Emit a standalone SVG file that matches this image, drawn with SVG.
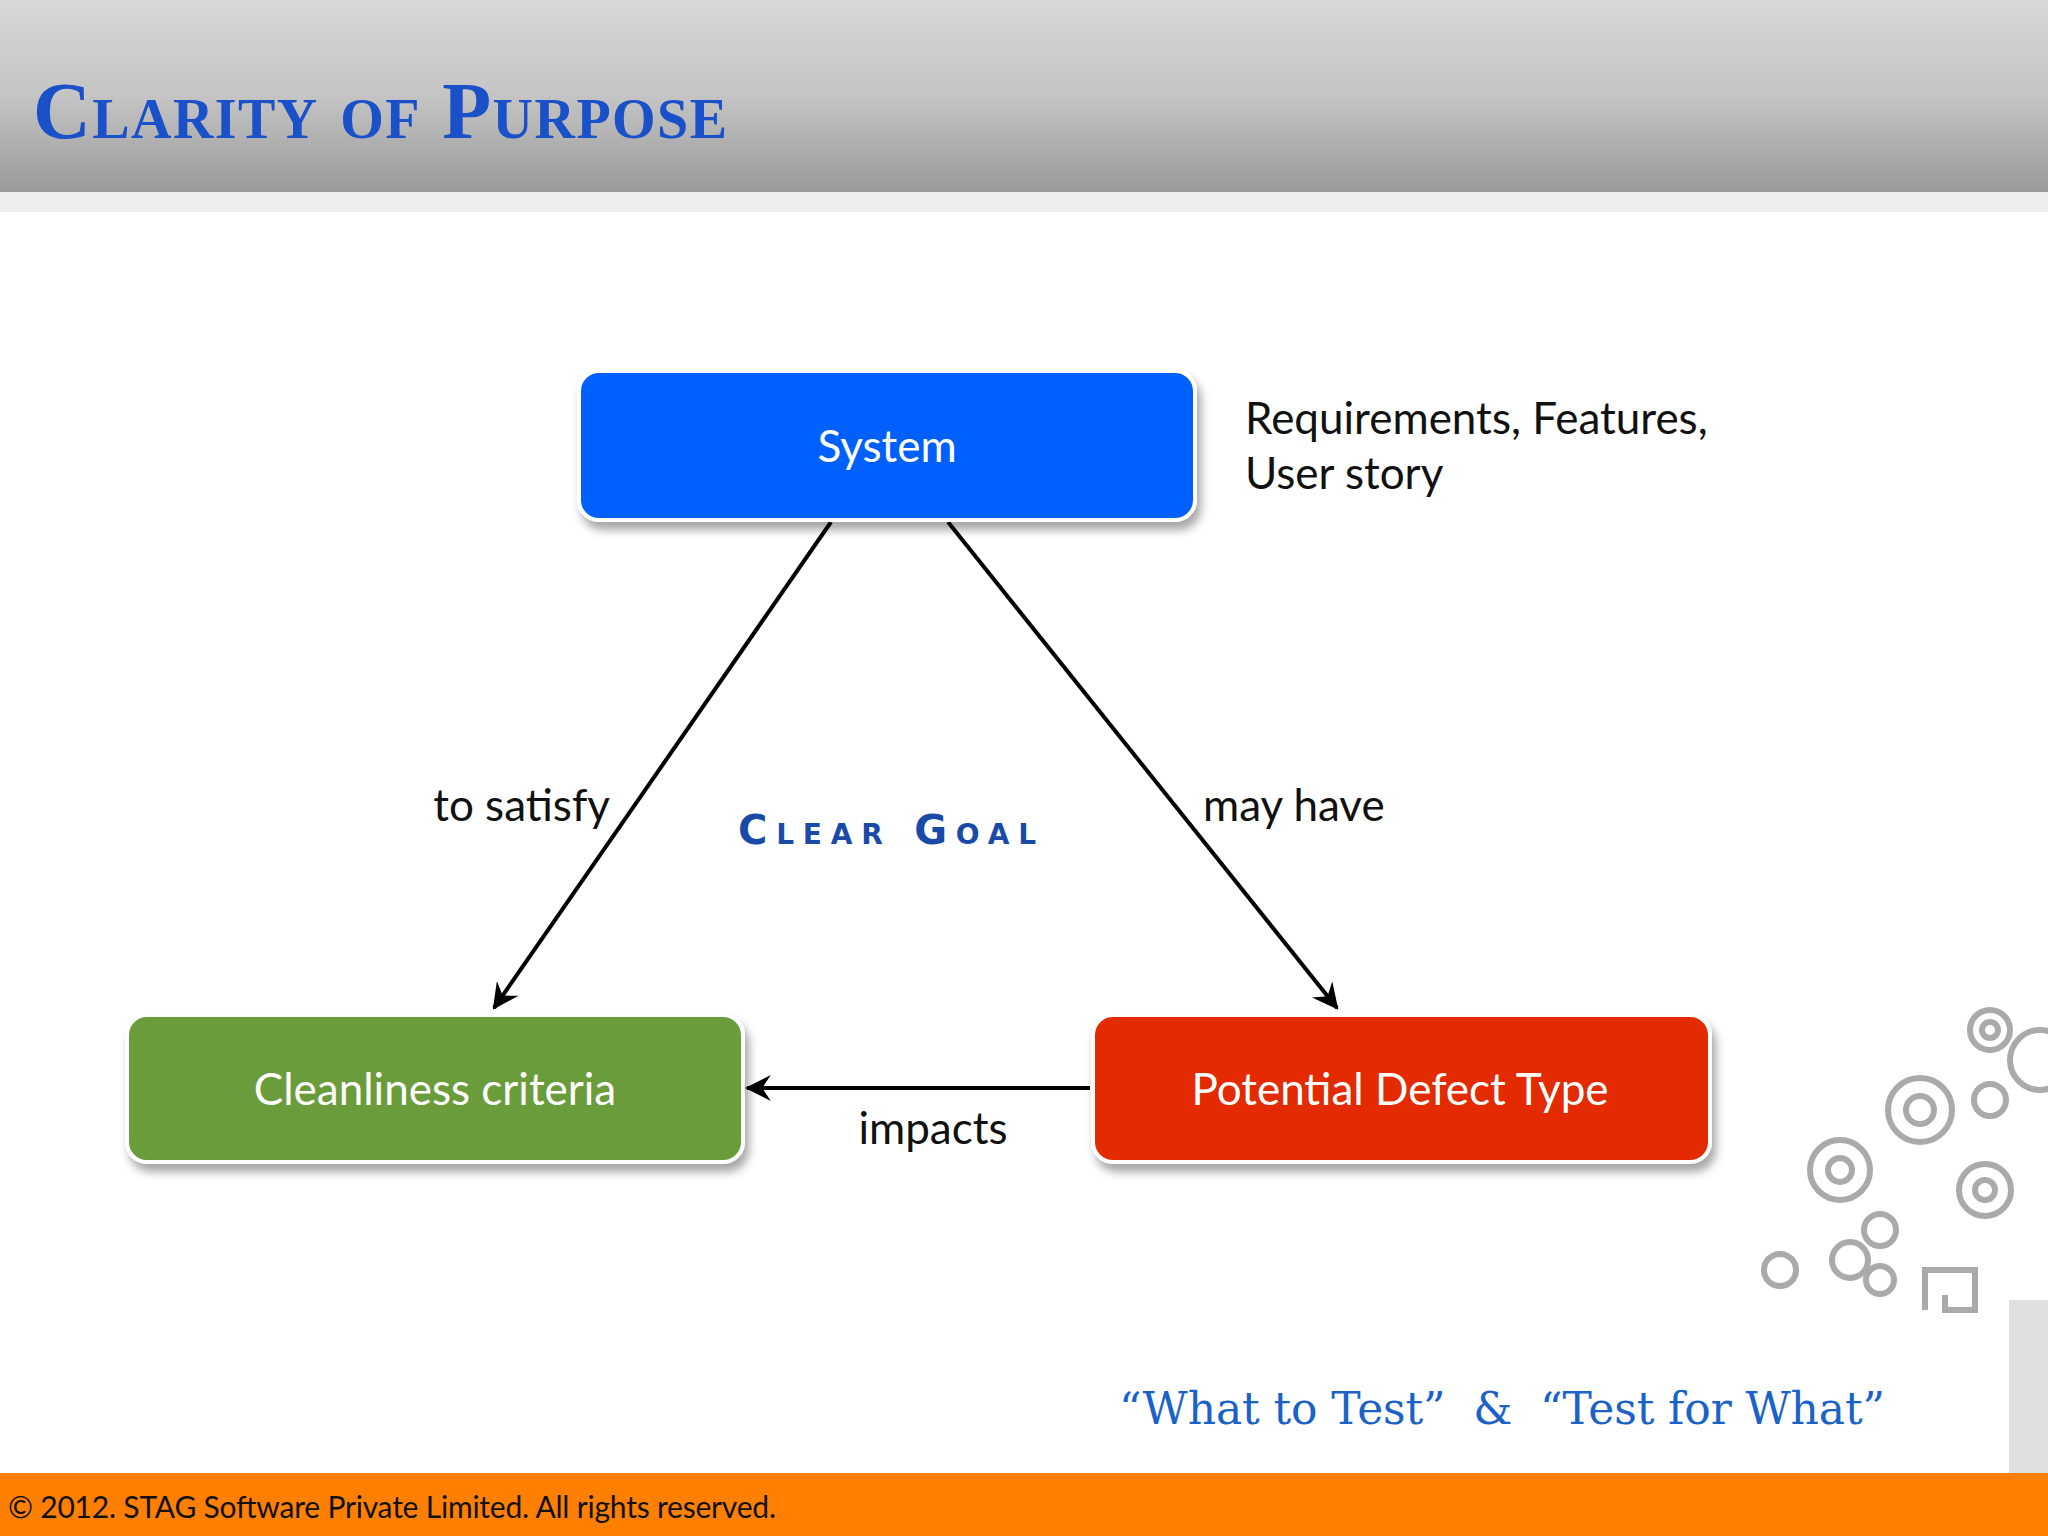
<svg xmlns="http://www.w3.org/2000/svg" width="2048" height="1536" viewBox="0 0 2048 1536">
<defs>
<linearGradient id="hdr" x1="0" y1="0" x2="0" y2="1"><stop offset="0" stop-color="#d8d8d8"/><stop offset="0.5" stop-color="#c4c4c4"/><stop offset="1" stop-color="#9a9a9a"/></linearGradient>
<filter id="sh" x="-10%" y="-10%" width="130%" height="140%"><feDropShadow dx="4" dy="8" stdDeviation="5" flood-color="#000" flood-opacity="0.35"/></filter>
<marker id="ah" viewBox="0 0 12 12" refX="11" refY="6" markerWidth="26" markerHeight="26" markerUnits="userSpaceOnUse" orient="auto"><path d="M0,0 L12,6 L0,12 L4,6 z" fill="#000"/></marker>
<style>
.lbl{font-family:Lato,"Open Sans",sans-serif;font-size:44px;fill:#111}
.nt{font-family:Lato,"Open Sans",sans-serif;font-size:44px;fill:#fff;text-anchor:middle}
.box{stroke:#fff;stroke-width:4;filter:url(#sh)}
.con{stroke:#000;stroke-width:4;fill:none;marker-end:url(#ah)}
.sw{fill:none;stroke:#aaa;stroke-width:6}
</style>
</defs>
<rect width="2048" height="1536" fill="#fff"/>
<rect width="2048" height="192" fill="url(#hdr)"/>
<rect y="192" width="2048" height="20" fill="#eeeeee"/>
<text x="33" y="138" font-family="'Liberation Serif',serif" font-size="80" fill="#1a50c8" style="font-variant:small-caps" font-weight="bold" textLength="694">Clarity of Purpose</text>
<g id="connectors">
<line class="con" x1="831" y1="522" x2="494" y2="1008"/>
<line class="con" x1="948" y1="522" x2="1337" y2="1008"/>
<line class="con" x1="1090" y1="1088" x2="747" y2="1088"/>
</g>
<g id="system"><rect class="box" x="579" y="371" width="616" height="149" rx="20" fill="#0560fd"/><text class="nt" x="887" y="462">System</text></g>
<g id="clean"><rect class="box" x="127" y="1015" width="616" height="147" rx="20" fill="#6a9c3a"/><text class="nt" x="435" y="1105">Cleanliness criteria</text></g>
<g id="defect"><rect class="box" x="1093" y="1015" width="617" height="147" rx="20" fill="#e32b06"/><text class="nt" x="1400" y="1105">Potential Defect Type</text></g>
<text class="lbl" x="610" y="821" text-anchor="end">to satisfy</text>
<text class="lbl" x="1203" y="821">may have</text>
<text class="lbl" x="933" y="1144" text-anchor="middle">impacts</text>
<text class="lbl" x="1245" y="434">Requirements, Features,</text>
<text class="lbl" x="1245" y="489">User story</text>
<text x="738" y="844" font-family="'DejaVu Sans',sans-serif" font-weight="bold" font-size="40" letter-spacing="5" fill="#1a4aa8" style="font-variant:small-caps" textLength="303">Clear Goal</text>
<text x="1119" y="1424" font-family="'DejaVu Serif',serif" font-size="44" fill="#1a62c8" xml:space="preserve" textLength="766">“What to Test”  &amp;  “Test for What”</text>
<rect x="2009" y="1300" width="39" height="173" fill="#e0e0e0"/>
<g id="swirl">
<circle class="sw" cx="1990" cy="1030" r="20"/><circle class="sw" cx="1990" cy="1030" r="8"/>
<circle class="sw" cx="1920" cy="1110" r="32"/><circle class="sw" cx="1920" cy="1110" r="14"/>
<circle class="sw" cx="1840" cy="1170" r="30"/><circle class="sw" cx="1840" cy="1170" r="12"/>
<circle class="sw" cx="1985" cy="1190" r="26"/><circle class="sw" cx="1985" cy="1190" r="10"/>
<circle class="sw" cx="1850" cy="1260" r="18"/><circle class="sw" cx="1880" cy="1230" r="16"/>
<circle class="sw" cx="1780" cy="1270" r="16"/><circle class="sw" cx="1880" cy="1280" r="14"/>
<circle class="sw" cx="1990" cy="1100" r="16"/><circle class="sw" cx="2040" cy="1060" r="30"/>
<path class="sw" d="M1925,1310 v-40 h50 v40 h-30 v-15" stroke-width="8"/>
</g>
<rect y="1473" width="2048" height="63" fill="#ff7f00"/>
<text x="8" y="1518" font-family="Lato,sans-serif" font-size="30" fill="#111" textLength="768">© 2012. STAG Software Private Limited. All rights reserved.</text>
</svg>
